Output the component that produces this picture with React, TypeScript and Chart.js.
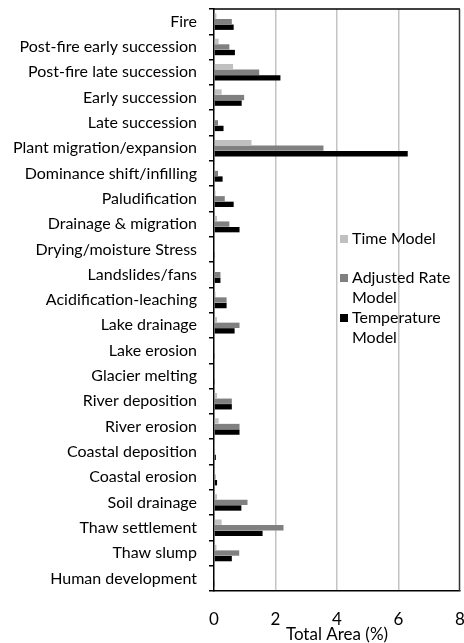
import { useEffect, useRef } from "react";
import { Chart, registerables } from "chart.js";

Chart.register(...registerables);

const FONT = "Lato, 'Noto Sans', sans-serif";

const categories = [
  "Fire",
  "Post-fire early succession",
  "Post-fire late succession",
  "Early succession",
  "Late succession",
  "Plant migration/expansion",
  "Dominance shift/infilling",
  "Paludification",
  "Drainage & migration",
  "Drying/moisture Stress",
  "Landslides/fans",
  "Acidification-leaching",
  "Lake drainage",
  "Lake erosion",
  "Glacier melting",
  "River deposition",
  "River erosion",
  "Coastal deposition",
  "Coastal erosion",
  "Soil drainage",
  "Thaw settlement",
  "Thaw slump",
  "Human development",
];

const timeModel = [0.08, 0.15, 0.62, 0.25, 0.02, 1.22, 0.02, 0.05, 0.1, 0, 0, 0.05, 0.1, 0, 0, 0.1, 0.15, 0.02, 0, 0.1, 0.25, 0.08, 0];
const adjustedRateModel = [0.58, 0.5, 1.47, 0.98, 0.13, 3.56, 0.13, 0.35, 0.5, 0, 0.21, 0.41, 0.83, 0, 0, 0.58, 0.83, 0, 0.05, 1.09, 2.26, 0.82, 0];
const temperatureModel = [0.64, 0.68, 2.16, 0.9, 0.31, 6.3, 0.28, 0.64, 0.83, 0.03, 0.21, 0.41, 0.67, 0.03, 0.03, 0.58, 0.83, 0.06, 0.1, 0.89, 1.58, 0.58, 0.03];

const seriesLabels = ["Time Model", "Adjusted Rate Model", "Temperature Model"];
const legendLines = [["Time Model"], ["Adjusted Rate", "Model"], ["Temperature", "Model"]];
const seriesColors = ["#c0c0c0", "#808080", "#000000"];

const xTicks = [0, 2, 4, 6, 8];

export default function App() {
  const ref = useRef<HTMLCanvasElement>(null);

  useEffect(() => {
    document.body.style.margin = "0";
    const canvas = ref.current;
    if (!canvas) return;

    const framePlugin = {
      id: "frame",
      afterDatasetsDraw(chart: any) {
        const { left, top, right, bottom } = chart.chartArea;
        const ctx = chart.ctx;
        ctx.save();
        ctx.strokeStyle = "#000";
        ctx.lineWidth = 1.5;
        ctx.beginPath();
        ctx.moveTo(left, top);
        ctx.lineTo(right, top);
        ctx.stroke();
        ctx.strokeStyle = "#333";
        ctx.lineWidth = 1.5;
        ctx.beginPath();
        ctx.moveTo(right - 0.5, top);
        ctx.lineTo(right - 0.5, bottom);
        ctx.stroke();
        ctx.restore();
      },
    };

    const legendPlugin = {
      id: "sideLegend",
      afterDraw(chart: any) {
        const ctx = chart.ctx;
        ctx.save();
        ctx.font = `16px ${FONT}`;
        ctx.textBaseline = "middle";
        ctx.textAlign = "left";
        const x0 = 340;
        const box = 8;
        const starts = [239, 278, 318];
        const lineH = 20;
        legendLines.forEach((lines, i) => {
          const y = starts[i];
          ctx.fillStyle = seriesColors[i];
          ctx.fillRect(x0, y - box / 2, box, box);
          ctx.fillStyle = "#000";
          lines.forEach((t, j) => {
            ctx.fillText(t, x0 + box + 4, y + j * lineH);
          });
        });
        ctx.restore();
      },
    };

    const chart = new Chart(canvas, {
      type: "bar",
      data: {
        labels: categories,
        datasets: [timeModel, adjustedRateModel, temperatureModel].map((d, i) => ({
          label: seriesLabels[i],
          data: d,
          backgroundColor: seriesColors[i],
          borderWidth: 0,
          barPercentage: 0.96,
          categoryPercentage: 0.66,
        })),
      },
      options: {
        indexAxis: "y",
        animation: false,
        responsive: false,
        maintainAspectRatio: false,
        layout: { padding: { top: 9, right: 4, left: 0, bottom: 0 } },
        plugins: {
          legend: { display: false },
          tooltip: { enabled: false },
        },
        scales: {
          x: {
            type: "linear",
            min: 0,
            max: 8,
            afterBuildTicks(scale: any) {
              scale.ticks = xTicks.map((v) => ({ value: v }));
            },
            afterFit(scale: any) {
              scale.height = 52;
              scale.paddingLeft = 0;
              scale.paddingRight = 0;
            },
            ticks: {
              color: "#000",
              font: { family: FONT, size: 17 },
              padding: 18,
              maxRotation: 0,
            },
            grid: {
              drawTicks: false,
              lineWidth: 1.5,
              color: (c: any) => {
                const v = c.tick ? c.tick.value : null;
                return v === 2 || v === 4 || v === 6 ? "#c4c4c4" : "rgba(0,0,0,0)";
              },
            },
            border: { display: true, color: "#000", width: 1.5 },
            title: {
              display: true,
              text: "Total Area (%)",
              color: "#000",
              font: { family: FONT, size: 17 },
              padding: { top: 0, bottom: -2 },
            },
          },
          y: {
            type: "category",
            afterFit(scale: any) {
              scale.width = 214;
              scale.paddingTop = 0;
              scale.paddingBottom = 0;
            },
            ticks: {
              color: "#000",
              font: { family: FONT, size: 16 },
              padding: 12,
              autoSkip: false,
            },
            grid: {
              offset: true,
              drawOnChartArea: false,
              drawTicks: true,
              tickLength: 5,
              color: "#000",
              lineWidth: 1.5,
            },
            border: { display: true, color: "#000", width: 1.5 },
          },
        },
      },
      plugins: [framePlugin, legendPlugin],
    } as any);

    return () => chart.destroy();
  }, []);

  return (
    <div style={{ position: "fixed", left: 0, top: 0, width: 464, height: 643 }}>
      <canvas ref={ref} width={464} height={643} style={{ width: 464, height: 643, display: "block" }} />
    </div>
  );
}
